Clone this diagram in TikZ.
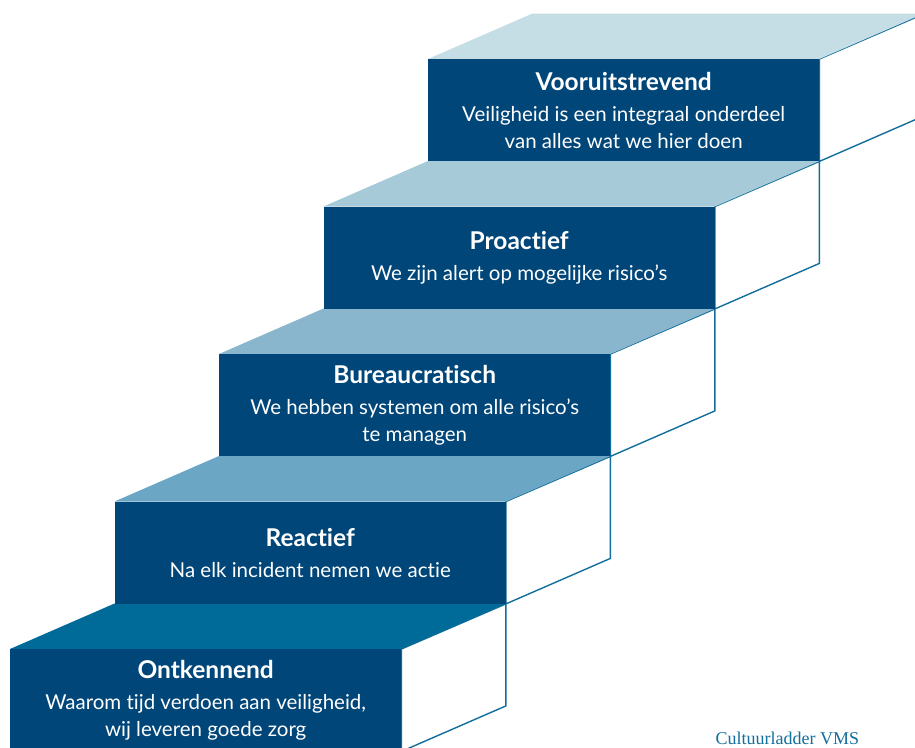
\documentclass[tikz,border=0pt]{standalone}
\usepackage{fontspec}
\setmainfont{Lato}[Ligatures=NoCommon]
\newfontfamily\captionfont{Liberation Serif}
\usetikzlibrary{calc,backgrounds}
\definecolor{stepnavy}{RGB}{0,70,121}
\definecolor{stepline}{RGB}{18,110,156}
\definecolor{topone}{RGB}{0,106,152}
\definecolor{toptwo}{RGB}{107,166,196}
\definecolor{topthree}{RGB}{137,182,205}
\definecolor{topfour}{RGB}{166,202,216}
\definecolor{topfive}{RGB}{197,221,228}
\tikzset{
  front/.style={fill=stepnavy,text=white,anchor=north west,
    minimum width=391pt,minimum height=102pt,inner sep=0pt,
    align=center,font=\fontsize{20.5}{27}\selectfont},
  sideface/.style={draw=stepline,line width=1.4pt,fill=white},
}
\newcommand{\steptitle}[1]{{\fontsize{24.5}{27}\selectfont\bfseries #1}}

\begin{document}
\begin{tikzpicture}[x=1pt,y=-1pt]
    \useasboundingbox (0,0) rectangle (915,747);
    \node[front] (s1) at (10,649) {\steptitle{Ontkennend}\\[4pt]
      Waarom tijd verdoen aan veiligheid,\\ wij leveren goede zorg};
    \node[front] (s2) at (114.5,501.5) {\steptitle{Reactief}\\[4pt]
      Na elk incident nemen we actie};
    \node[front] (s3) at (219,354) {\steptitle{Bureaucratisch}\\[4pt]
      We hebben systemen om alle risico's\\ te managen};
    \node[front] (s4) at (323.5,206.5) {\steptitle{Proactief}\\[4pt]
      We zijn alert op mogelijke risico's};
    \node[front] (s5) at (428,59) {\steptitle{Vooruitstrevend}\\[4pt]
      Veiligheid is een integraal onderdeel\\ van alles wat we hier doen};
    \begin{scope}[on background layer]
      % side faces, then the tops over them
      \foreach \s in {s1,s2,s3,s4,s5}
        \draw[sideface] (\s.north east) -- (\s.south east)
          -- ++(104.5,-45.5) -- ++(0,-102) -- cycle;
      \foreach \s/\c in {s1/topone,s2/toptwo,s3/topthree,s4/topfour,s5/topfive}
        \fill[\c] (\s.north west) -- (\s.north east) -- ++(104.5,-45.5)
          -- ($(\s.north west)+(104.5,-45.5)$) -- cycle;
    \end{scope}
    \node[font=\captionfont\fontsize{18}{20}\selectfont,text=stepline,
      anchor=base west] (bron) at (712,744) {Cultuurladder VMS};
\end{tikzpicture}
\end{document}
